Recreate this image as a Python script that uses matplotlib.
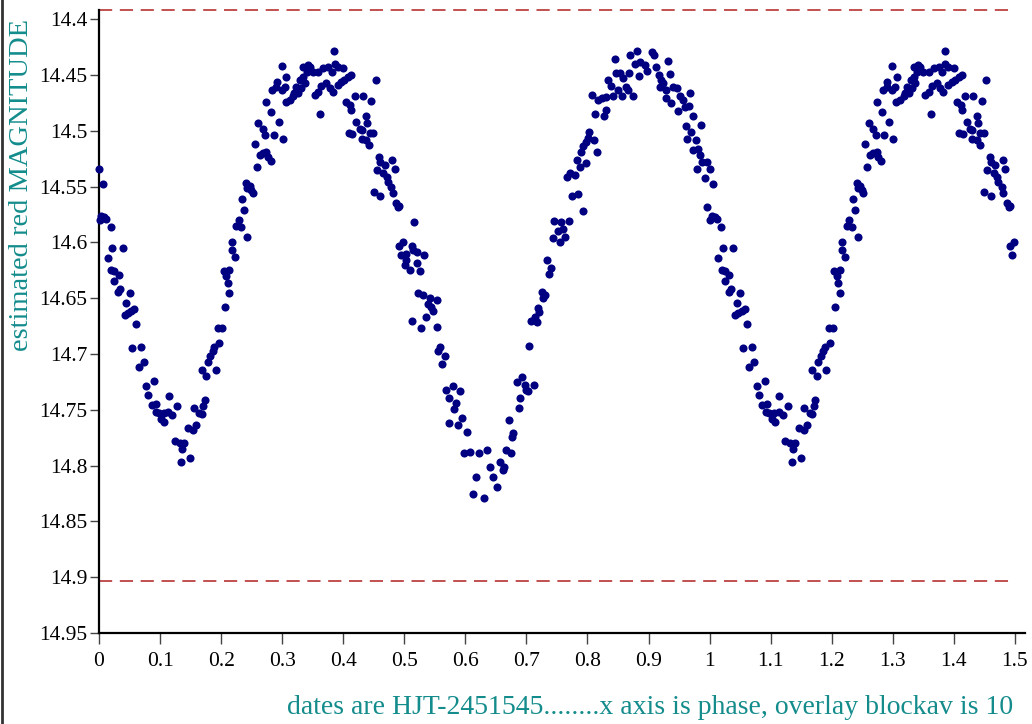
import matplotlib
matplotlib.use('Agg')
import matplotlib.pyplot as plt
import numpy as np
from matplotlib.lines import Line2D

# Phase-folded light curve, one cycle (0..1); the first half is drawn again at +1
PHASE = [
    0.000, 0.006, 0.004, 0.009, 0.001, 0.012, 0.019, 0.022, 0.039, 0.014, 0.020, 0.025,
    0.032, 0.025, 0.031, 0.035, 0.050, 0.045, 0.042, 0.047, 0.053, 0.058, 0.061, 0.054,
    0.069, 0.065, 0.073, 0.077, 0.090, 0.081, 0.086, 0.094, 0.093, 0.098, 0.102, 0.107,
    0.106, 0.113, 0.120, 0.114, 0.128, 0.124, 0.132, 0.140, 0.136, 0.135, 0.149, 0.146,
    0.154, 0.159, 0.155, 0.164, 0.168, 0.173, 0.171, 0.168, 0.176, 0.191, 0.178, 0.182,
    0.186, 0.189, 0.197, 0.195, 0.202, 0.206, 0.213, 0.211, 0.208, 0.204, 0.213, 0.217,
    0.217, 0.222, 0.225, 0.229, 0.233, 0.243, 0.238, 0.235, 0.241, 0.247, 0.249, 0.252,
    0.243, 0.258, 0.263, 0.268, 0.274, 0.276, 0.281, 0.255, 0.261, 0.268, 0.272, 0.286,
    0.294, 0.301, 0.282, 0.274, 0.284, 0.290, 0.299, 0.304, 0.291, 0.299, 0.307,
    0.306, 0.312, 0.318, 0.320, 0.323, 0.326, 0.331, 0.337, 0.329, 0.334, 0.340, 0.334,
    0.342, 0.345, 0.350, 0.359, 0.353, 0.359, 0.364, 0.372, 0.378, 0.383, 0.362, 0.367,
    0.375, 0.381, 0.386, 0.391, 0.400, 0.385, 0.391, 0.397, 0.402, 0.408, 0.413, 0.405,
    0.411, 0.413, 0.409,
    0.453, 0.419, 0.432, 0.446, 0.421, 0.427, 0.430, 0.438, 0.439, 0.415, 0.430, 0.438,
    0.443, 0.449, 0.442, 0.459, 0.460, 0.468, 0.480, 0.484, 0.455, 0.465, 0.471, 0.473,
    0.479, 0.481, 0.450, 0.461, 0.487, 0.490, 0.492, 0.516, 0.492, 0.498, 0.512, 0.514,
    0.503, 0.495, 0.520, 0.533, 0.501, 0.503, 0.509, 0.521, 0.525,
    0.522, 0.531, 0.542, 0.553, 0.539, 0.544, 0.547, 0.513, 0.536, 0.528, 0.554, 0.558,
    0.555, 0.566, 0.562, 0.569, 0.579, 0.591, 0.573, 0.584, 0.581, 0.594, 0.574, 0.588,
    0.603, 0.598, 0.607, 0.623, 0.636, 0.641, 0.617, 0.646, 0.651, 0.612, 0.630, 0.656,
    0.663, 0.661, 0.667, 0.675, 0.672, 0.678, 0.677, 0.688, 0.689, 0.684, 0.693, 0.697,
    0.700, 0.712, 0.703, 0.704,
    0.708, 0.714, 0.717, 0.721, 0.719, 0.725, 0.730, 0.727, 0.733, 0.741, 0.737, 0.744,
    0.755, 0.763, 0.752, 0.760, 0.745, 0.757, 0.770, 0.792, 0.775, 0.785, 0.766, 0.771,
    0.779, 0.782, 0.788, 0.797, 0.789, 0.793, 0.797, 0.801, 0.803, 0.810, 0.815, 0.813,
    0.827, 0.830, 0.807, 0.817, 0.823, 0.831, 0.842, 0.850, 0.856, 0.834, 0.838, 0.846,
    0.853, 0.858, 0.863, 0.866, 0.868, 0.874, 0.845, 0.870, 0.881, 0.877, 0.886, 0.885,
    0.894, 0.897, 0.905, 0.909, 0.913, 0.917, 0.921, 0.924, 0.918, 0.932, 0.935, 0.929,
    0.940, 0.946, 0.929, 0.936, 0.951, 0.956, 0.968, 0.948, 0.959, 0.966, 0.973, 0.986,
    0.961, 0.970, 0.963, 0.977, 0.973, 0.981, 0.984, 0.988, 0.995, 0.979, 0.992, 0.995,
]

MAGNITUDE = [
    14.534, 14.548, 14.576, 14.577, 14.580, 14.579, 14.586, 14.605, 14.605, 14.614, 14.625, 14.626,
    14.629, 14.635, 14.644, 14.642, 14.645, 14.654, 14.665, 14.663, 14.661, 14.660, 14.673, 14.695,
    14.694, 14.712, 14.707, 14.729, 14.724, 14.737, 14.746, 14.745, 14.752, 14.753, 14.758, 14.761,
    14.753, 14.752, 14.755, 14.738, 14.747, 14.778, 14.780, 14.780, 14.785, 14.797, 14.793, 14.766,
    14.768, 14.764, 14.748, 14.753, 14.754, 14.741, 14.747, 14.714, 14.720, 14.714, 14.707, 14.702,
    14.697, 14.694, 14.690, 14.677, 14.677, 14.658, 14.645, 14.636, 14.630, 14.626, 14.625, 14.607,
    14.600, 14.613, 14.585, 14.580, 14.586, 14.595, 14.571, 14.561, 14.547, 14.549, 14.553, 14.556,
    14.551, 14.532, 14.522, 14.520, 14.519, 14.523, 14.527, 14.512, 14.493, 14.498, 14.504, 14.504,
    14.492, 14.507, 14.483, 14.474, 14.463, 14.461, 14.463, 14.461, 14.456, 14.442, 14.452,
    14.474, 14.472, 14.469, 14.466, 14.461, 14.466, 14.462, 14.457, 14.454, 14.452, 14.447, 14.443,
    14.441, 14.443, 14.447, 14.447, 14.468, 14.465, 14.460, 14.457, 14.462, 14.465, 14.485, 14.444,
    14.443, 14.447, 14.440, 14.443, 14.444, 14.428, 14.459, 14.456, 14.454, 14.452, 14.450, 14.474,
    14.477, 14.481, 14.502,
    14.454, 14.469, 14.469, 14.473, 14.492, 14.498, 14.499, 14.487, 14.493, 14.503, 14.507, 14.508,
    14.502, 14.502, 14.513, 14.523, 14.528, 14.531, 14.526, 14.534, 14.535, 14.538, 14.541, 14.546,
    14.550, 14.556, 14.555, 14.558, 14.565, 14.568, 14.567, 14.582, 14.603, 14.600, 14.603, 14.607,
    14.610, 14.611, 14.609, 14.611, 14.620, 14.616, 14.625, 14.618, 14.626,
    14.645, 14.647, 14.650, 14.652, 14.655, 14.658, 14.661, 14.670, 14.667, 14.677, 14.676, 14.694,
    14.697, 14.702, 14.709, 14.732, 14.729, 14.733, 14.739, 14.744, 14.749, 14.757, 14.762, 14.764,
    14.770, 14.789, 14.788, 14.789, 14.786, 14.801, 14.810, 14.810, 14.819, 14.825, 14.829, 14.797,
    14.801, 14.804, 14.786, 14.789, 14.759, 14.771, 14.774, 14.748, 14.739, 14.725, 14.721, 14.728,
    14.732, 14.728, 14.733, 14.693,
    14.670, 14.667, 14.671, 14.662, 14.659, 14.644, 14.647, 14.650, 14.616, 14.623, 14.628, 14.596,
    14.600, 14.595, 14.590, 14.588, 14.581, 14.582, 14.581, 14.572, 14.558, 14.557, 14.541, 14.538,
    14.540, 14.526, 14.532, 14.529, 14.519, 14.514, 14.510, 14.506, 14.501, 14.508, 14.519, 14.485,
    14.487, 14.481, 14.468, 14.472, 14.471, 14.470, 14.469, 14.463, 14.469, 14.454, 14.460, 14.448,
    14.448, 14.453, 14.461, 14.463, 14.448, 14.469, 14.436, 14.432, 14.428, 14.440, 14.438, 14.451,
    14.441, 14.446, 14.429, 14.432, 14.443, 14.450, 14.454, 14.457, 14.461, 14.437, 14.449, 14.463,
    14.461, 14.462, 14.471, 14.475, 14.469, 14.472, 14.466, 14.482, 14.479, 14.478, 14.487, 14.495,
    14.496, 14.501, 14.507, 14.508, 14.517, 14.516, 14.522, 14.528, 14.528, 14.534, 14.542, 14.568,
]

LIMIT_LINES = [14.392, 14.903]
X_TICKS = [0, 0.1, 0.2, 0.3, 0.4, 0.5, 0.6, 0.7, 0.8, 0.9, 1, 1.1, 1.2, 1.3, 1.4, 1.5]
Y_TICKS = [14.4, 14.45, 14.5, 14.55, 14.6, 14.65, 14.7, 14.75, 14.8, 14.85, 14.9, 14.95]

Y_LABEL = 'estimated red MAGNITUDE'
X_LABEL = 'dates are HJT-2451545........x axis is phase, overlay blockav is 10'

# Constants
FIG_W, FIG_H = 1032, 724
DPI = 100
POINT_COLOR = '#000080'
LIMIT_COLOR = '#b83232'
LABEL_COLOR = '#148c8c'
SERIF = ['Liberation Serif', 'DejaVu Serif']


def main():
    plt.rcParams['font.family'] = SERIF
    plt.rcParams['lines.scale_dashes'] = False

    fig = plt.figure(figsize=(FIG_W / DPI, FIG_H / DPI), dpi=DPI)
    ax = fig.add_axes([99 / FIG_W, 1 - 633 / FIG_H, (1025 - 99) / FIG_W, (633 - 10) / FIG_H])

    plot_points(ax)
    plot_limits(ax)
    style_axes(ax)
    add_labels(fig)

    fig.savefig('out.png', dpi=DPI)


def plot_points(ax):
    """Draw one full cycle plus the repeated first half"""
    phase = np.array(PHASE)
    mag = np.array(MAGNITUDE)
    again = phase <= 0.5
    x = np.concatenate([phase, phase[again] + 1])
    y = np.concatenate([mag, mag[again]])
    ax.scatter(x, y, s=34, color=POINT_COLOR, linewidths=0, zorder=3, clip_on=False)


def plot_limits(ax):
    for level in LIMIT_LINES:
        ax.plot([0, 1.5], [level, level], color=LIMIT_COLOR, lw=1.2,
                dashes=(9.5, 5.5), zorder=2, clip_on=False)


def style_axes(ax):
    ax.set_xlim(0, 1.5165)
    ax.set_ylim(14.95, 14.3917)
    for side in ('top', 'right'):
        ax.spines[side].set_visible(False)
    for side in ('left', 'bottom'):
        ax.spines[side].set_linewidth(1.6)
        ax.spines[side].set_color('black')
    ax.set_xticks(X_TICKS)
    ax.set_xticklabels(['%g' % t for t in X_TICKS])
    ax.set_yticks(Y_TICKS)
    ax.set_yticklabels(['%g' % t for t in Y_TICKS])
    ax.tick_params(axis='x', direction='out', length=8, width=1, color='#444444',
                   pad=6, labelsize=15.5)
    ax.tick_params(axis='y', direction='out', length=6.5, width=1, color='#444444',
                   pad=2, labelsize=15.5)


def add_labels(fig):
    fig.text(22 / FIG_W, 1 - 185 / FIG_H, Y_LABEL, rotation=90, ha='center', va='center',
             color=LABEL_COLOR, fontsize=20.5)
    fig.text(1013 / FIG_W, 1 - 707 / FIG_H, X_LABEL, ha='right', va='center',
             color=LABEL_COLOR, fontsize=20)
    # thin frame on the left edge of the picture
    fig.add_artist(Line2D([1.5 / FIG_W, 1.5 / FIG_W], [0, 1], transform=fig.transFigure,
                          color='#333333', lw=2))


if __name__ == '__main__':
    main()
